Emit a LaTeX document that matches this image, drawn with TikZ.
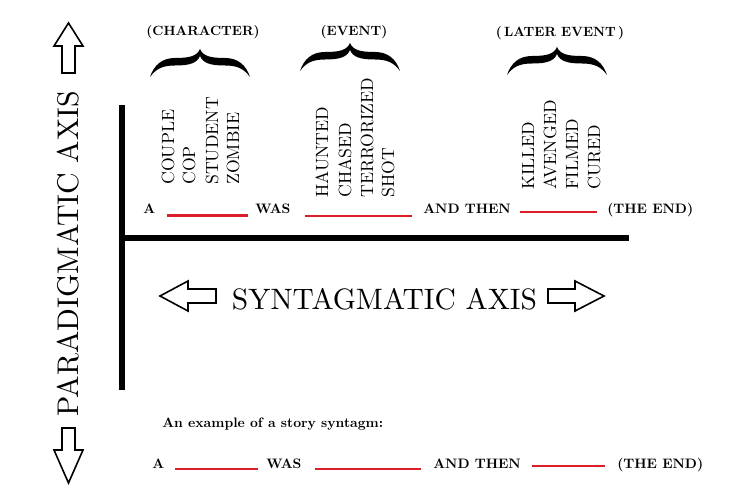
\documentclass[tikz,border=0pt]{standalone}
\begin{document}
\begin{tikzpicture}[x=1pt,y=-1pt,
  rowtext/.style={inner sep=0pt,anchor=base west,scale=1.37,font=\fontsize{10}{12}\selectfont\bfseries},
  catlabel/.style={inner sep=0pt,anchor=base,scale=1.34,font=\fontsize{10}{12}\selectfont\bfseries},
  vword/.style={inner sep=0pt,rotate=90,anchor=west,scale=1.77,font=\fontsize{10}{12}\selectfont},
  bigtitle/.style={inner sep=0pt,font=\fontsize{10}{12}\selectfont},
  blank/.style={draw={rgb,255:red,220;green,30;blue,40},line width=2.2pt},
  axisline/.style={line width=5.5pt},
  blockarrow/.style={draw=black,line width=1.6pt,line join=miter},
  stache/.pic={\fill[black] (-50,28) .. controls (-46,16) and (-38,9) .. (-25,9)
      .. controls (-10,9) and (-3,7) .. (0,0)
      .. controls (3,7) and (10,9) .. (25,9)
      .. controls (38,9) and (46,16) .. (50,28)
      .. controls (44,20) and (38,16.5) .. (25,16.5)
      .. controls (10,16.5) and (3,14) .. (0,7)
      .. controls (-3,14) and (-10,16.5) .. (-25,16.5)
      .. controls (-38,16.5) and (-44,20) .. (-50,28) -- cycle;}
]
\useasboundingbox (0,0) rectangle (736,503);

% axes
\draw[axisline] (122,105) -- (122,390);
\draw[axisline] (120,238) -- (629,238);

% paradigmatic axis
\draw[blockarrow] (68.5,23) -- (83,46) -- (75,46) -- (75,73) -- (62,73) -- (62,46) -- (54,46) -- cycle;
\draw[blockarrow] (62,428) -- (75,428) -- (75,450) -- (83,450) -- (68.5,483) -- (54,450) -- (62,450) -- cycle;
\node[bigtitle,rotate=90,scale=2.99] (para) at (68,253.5) {PARADIGMATIC AXIS};

% syntagmatic axis
\draw[blockarrow] (160,296) -- (188,281) -- (188,289) -- (216,289) -- (216,303) -- (188,303) -- (188,311) -- cycle;
\draw[blockarrow] (604,296) -- (575,281) -- (575,289) -- (548,289) -- (548,303) -- (575,303) -- (575,311) -- cycle;
\node[bigtitle,scale=2.95] (synt) at (384.5,299) {SYNTAGMATIC AXIS};

% category labels and braces
\node[catlabel] (lchar) at (203,36) {(CHARACTER)};
\node[catlabel] (levent) at (354,36) {(EVENT)};
\node[catlabel] (llater) at (560,37) {(\,LATER EVENT\,)};
\pic at (200,49) {stache};
\pic at (350,43) {stache};
\pic at (557,47) {stache};

% paradigm words
\node[vword] (w1) at (168,185) {COUPLE};
\node[vword] (w2) at (189,185) {COP};
\node[vword] (w3) at (212,185) {STUDENT};
\node[vword] (w4) at (233,185) {ZOMBIE};
\node[vword] (e1) at (322,198) {HAUNTED};
\node[vword] (e2) at (345,198) {CHASED};
\node[vword] (e3) at (367,198) {TERRORIZED};
\node[vword] (e4) at (388,198) {SHOT};
\node[vword] (k1) at (528,190) {KILLED};
\node[vword] (k2) at (550,190) {AVENGED};
\node[vword] (k3) at (572,190) {FILMED};
\node[vword] (k4) at (594,190) {CURED};

% top row
\node[rowtext] (ta) at (143,213) {A};
\node[rowtext] (twas) at (255,213) {WAS};
\node[rowtext] (tand) at (423,213) {AND THEN};
\node[rowtext] (tend) at (607,213) {(THE END)};
\draw[blank] (167,215.5) -- (248,215.5);
\draw[blank] (305,216) -- (412,216);
\draw[blank] (520,212) -- (597,212);

% example
\node[rowtext] (ex) at (162,427) {An example of a story syntagm:};
\node[rowtext] (ba) at (152,468) {A};
\node[rowtext] (bwas) at (266,468) {WAS};
\node[rowtext] (band) at (433,468) {AND THEN};
\node[rowtext] (bend) at (617,468) {(THE END)};
\draw[blank] (175,469) -- (258,469);
\draw[blank] (315,469) -- (421,469);
\draw[blank] (532,466) -- (605,466);
\end{tikzpicture}
\end{document}
